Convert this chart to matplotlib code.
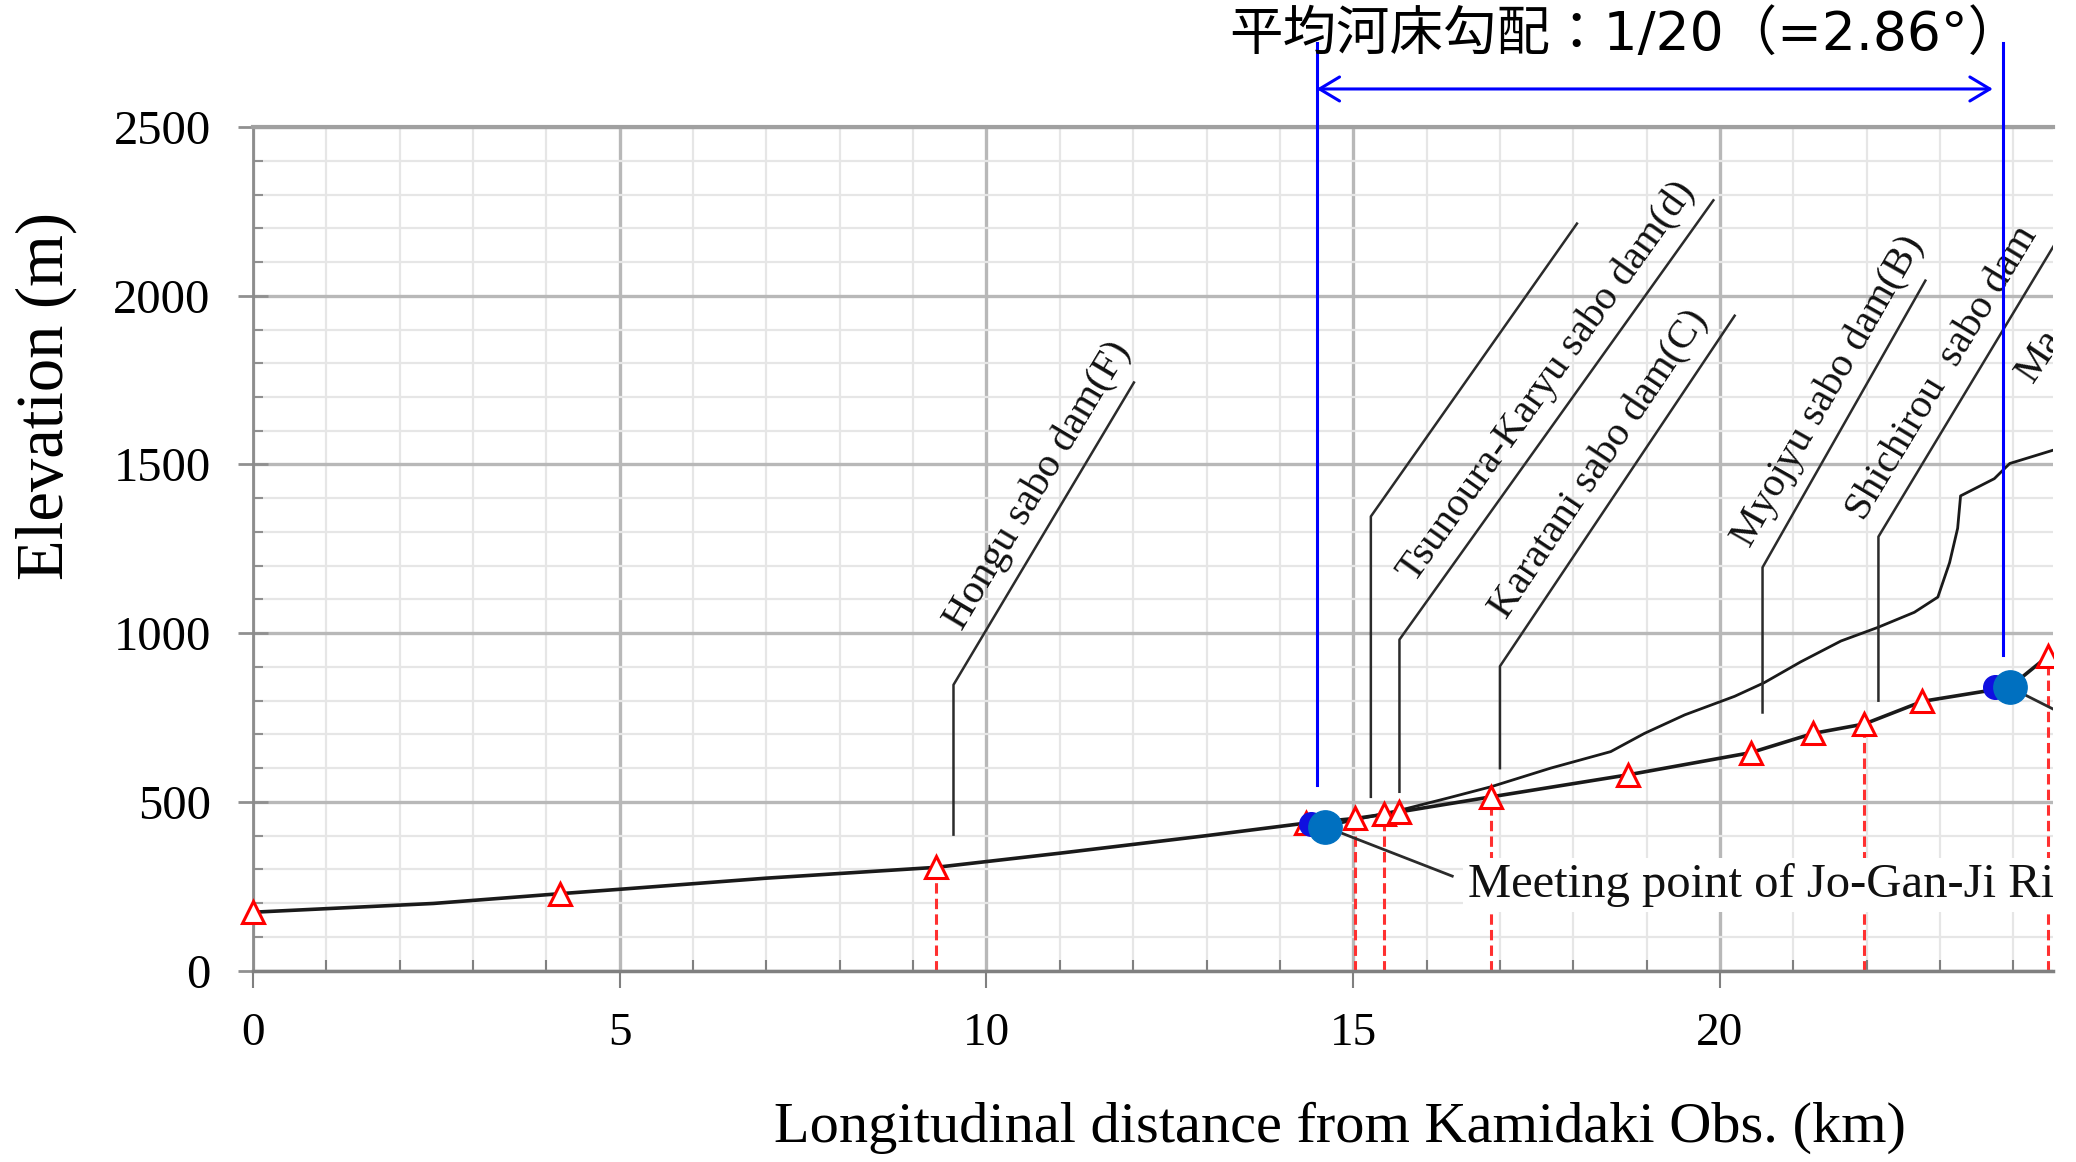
import numpy as np
import matplotlib
matplotlib.use("Agg")
import matplotlib.pyplot as plt
from matplotlib.ticker import MultipleLocator
from matplotlib.transforms import Bbox, TransformedBbox

plt.rcParams["font.family"] = ["Liberation Serif", "DejaVu Serif"]

# main river bed profile (distance km, elevation m)
bed_km = [0.0, 2.46, 4.19, 5.0, 7.0, 9.31, 11.0, 13.0, 14.35, 15.03, 15.42,
          15.62, 16.88, 18.74, 20.42, 21.27, 21.97, 22.76, 23.95, 24.47]
bed_elev = [173, 199, 228, 241, 274, 306, 348, 400, 437, 451, 463,
            470, 515, 580, 646, 703, 731, 798, 840, 932]

# tributary profile branching off at the meeting point
trib_km = [14.61, 15.2, 15.74, 16.3, 16.88, 17.69, 18.51, 18.97, 19.52, 20.2,
           20.6, 21.1, 21.65, 22.15, 22.65, 22.97, 23.13, 23.24, 23.28, 23.74,
           23.95, 24.55]
trib_elev = [427, 455, 481, 512, 545, 600, 649, 703, 758, 813,
             853, 915, 977, 1017, 1062, 1107, 1209, 1311, 1407, 1458,
             1503, 1543]

# survey stations on the bed
station_km = [0.0, 4.19, 9.31, 14.35, 15.03, 15.42, 15.62, 16.88, 18.74,
              20.42, 21.27, 21.97, 22.76, 24.47]
station_elev = [173, 228, 306, 437, 451, 463, 470, 515, 580,
                646, 703, 731, 798, 932]

# stations with a drop line to the axis
drop_km = [9.31, 15.03, 15.42, 16.88, 21.97, 24.47]
drop_elev = [306, 451, 463, 515, 731, 932]

# confluences
meet_km = [14.61, 23.95]
meet_elev = [427, 840]
meet_back_km = [14.42, 23.75]
meet_back_elev = [434, 842]

# sabo dams: leader foot, knee and tip
dam_names = ["Hongu sabo dam(F)", "", "Tsunoura-Karyu sabo dam(d)",
             "Karatani sabo dam(C)", "Myojyu sabo dam(B)", "Shichirou  sabo dam"]
dam_km = [9.55, 15.24, 15.63, 17.0, 20.58, 22.16]
dam_foot = [403, 515, 530, 600, 765, 800]
dam_knee = [847, 1346, 981, 902, 1195, 1286]
dam_tip_km = [12.01, 18.05, 19.91, 20.2, 22.8, 24.55]
dam_tip_elev = [1743, 2214, 2283, 1941, 2045, 2148]
label_along = [50, 0, 54, 42, 10, 5]   # px along the leader before text starts
LABEL_GAP = 20                          # px between leader and text baseline

# averaged bed-slope bracket
slope_km = [14.5, 23.86]
slope_foot = [551, 935]
slope_top = 2750
arrow_km = [14.5, 23.72]
arrow_elev = 2613
slope_text = "平均河床勾配：1/20（=2.86°）"

fig = plt.figure(figsize=(20.76, 11.62), dpi=100)
ax = fig.add_axes([253 / 2076, 1 - 970.6 / 1162, 1800 / 2076, 843.5 / 1162])
ax.set_xlim(0, 24.54)
ax.set_ylim(0, 2500)

ax.xaxis.set_major_locator(MultipleLocator(5))
ax.xaxis.set_minor_locator(MultipleLocator(1))
ax.yaxis.set_major_locator(MultipleLocator(500))
ax.yaxis.set_minor_locator(MultipleLocator(100))
ax.set_axisbelow(True)
ax.grid(which="major", color="#B8B8B8", lw=2.4)
ax.grid(which="minor", color="#E6E6E6", lw=1.6)

ax.spines["right"].set_visible(False)
ax.spines["top"].set_color("#A0A0A0")
ax.spines["top"].set_linewidth(3)
ax.spines["left"].set_color("#8C8C8C")
ax.spines["left"].set_linewidth(2)
ax.spines["bottom"].set_color("#808080")
ax.spines["bottom"].set_linewidth(2.5)

ax.tick_params(axis="x", which="major", direction="out", length=12, width=1.5,
               color="#808080", pad=18, labelsize=34)
ax.tick_params(axis="x", which="minor", direction="in", length=8, width=1.5,
               color="#808080")
ax.tick_params(axis="y", which="major", direction="inout", length=21, width=2,
               color="#909090", pad=20, labelsize=35)
ax.tick_params(axis="y", which="minor", direction="in", length=7, width=1.5,
               color="#909090")

# profiles
ax.plot(bed_km, bed_elev, color="#1A1A1A", lw=2.6, zorder=3)
ax.plot(trib_km, trib_elev, color="#1A1A1A", lw=2.0, zorder=3)

for xk, yk in zip(drop_km, drop_elev):
    ax.plot([xk, xk], [0, yk], color="#FF3030", lw=2.2, ls=(0, (3.4, 1.7)), zorder=2)

# stations: let the first marker overhang the left axis, cut at the right edge
tri, = ax.plot(station_km, station_elev, ls="none", marker="^", ms=16, mfc="white",
               mec="#FF0000", mew=2.2, zorder=5)
tri.set_clip_box(TransformedBbox(Bbox([[-0.6, -100], [24.54, 2600]]), ax.transData))

# dam leaders and labels
to_px = ax.transData.transform
to_data = ax.transData.inverted().transform
for name, xk, y0, y1, xt, yt, along in zip(dam_names, dam_km, dam_foot, dam_knee,
                                           dam_tip_km, dam_tip_elev, label_along):
    ax.plot([xk, xk, xt], [y0, y1, yt], color="#2B2B2B", lw=1.8, zorder=4)
    if not name:
        continue
    p0 = to_px((xk, y1))
    d = to_px((xt, yt)) - p0
    u = d / np.hypot(*d)
    n = np.array([-u[1], u[0]])
    ang = np.degrees(np.arctan2(d[1], d[0]))
    tx, ty = to_data(p0 + u * along + n * LABEL_GAP)
    ax.text(tx, ty, name, rotation=ang, rotation_mode="anchor", ha="left",
            va="baseline", fontsize=29.5, color="#111111", zorder=4, clip_on=True)

ax.text(24.26, 1740, "Ma", rotation=56, rotation_mode="anchor", ha="left",
        va="baseline", fontsize=29.5, color="#111111", zorder=4, clip_on=True)

# confluence markers and callouts
ax.plot([meet_km[0], 16.35], [meet_elev[0], 280], color="#2B2B2B", lw=2.0, zorder=4)
ax.plot([meet_km[1], 25.3], [meet_elev[1], 692], color="#2B2B2B", lw=2.0, zorder=4)
ax.plot(meet_back_km, meet_back_elev, ls="none", marker="o", ms=17,
        color="#1010E0", zorder=6)
ax.plot(meet_km, meet_elev, ls="none", marker="o", ms=24, color="#0070C0", zorder=7)
ax.text(16.56, 219, "Meeting point of Jo-Gan-Ji River", fontsize=35, ha="left",
        va="baseline", color="#111111", zorder=4, clip_on=True,
        bbox=dict(boxstyle="square,pad=0.1", fc="white", ec="none"))

# average slope bracket
for xk, yk in zip(slope_km, slope_foot):
    ax.plot([xk, xk], [yk, slope_top], color="#0000FF", lw=2.2, zorder=6,
            clip_on=False)
ax.annotate("", xy=(arrow_km[1], arrow_elev), xytext=(arrow_km[0], arrow_elev),
            arrowprops=dict(arrowstyle="<->,head_length=0.4,head_width=0.24",
                            color="#0000FF", lw=2.2, mutation_scale=36,
                            shrinkA=0, shrinkB=0),
            annotation_clip=False, zorder=6)
fig.text(1229 / 2076, 1 - 35 / 1162, slope_text, fontsize=38.5, ha="left",
         va="center", family=["DejaVu Sans", "Noto Sans CJK JP"])

fig.text(46 / 2076, 1 - 396 / 1162, "Elevation (m)", rotation=90, fontsize=48,
         ha="center", va="center")
fig.text(1340 / 2076, 1 - 1128 / 1162, "Longitudinal distance from Kamidaki Obs. (km)",
         fontsize=42, ha="center", va="center")

fig.savefig("out.png", dpi=100, facecolor="white")
